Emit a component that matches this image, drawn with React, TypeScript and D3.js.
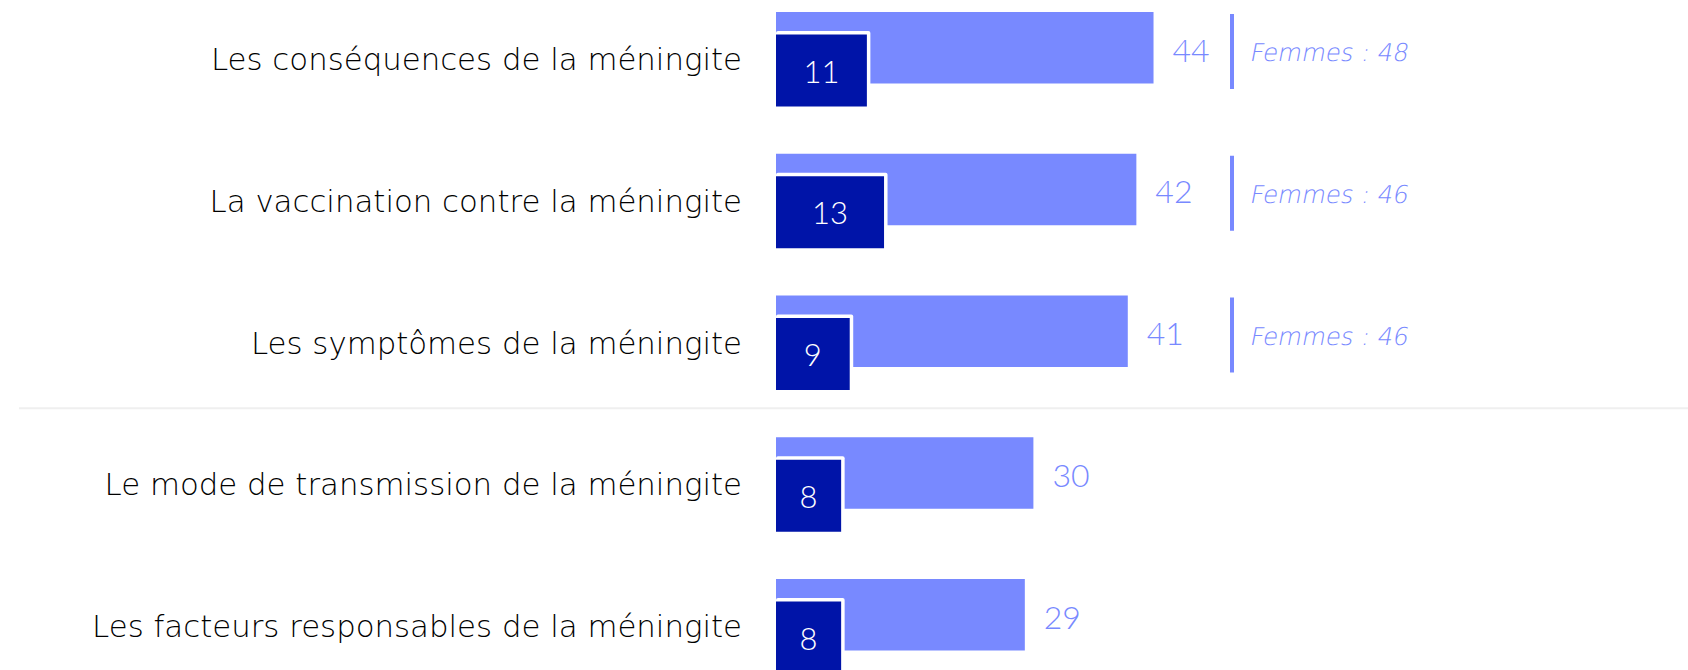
import React, { useEffect, useRef } from 'react';
import * as d3 from 'd3';

// Données
const categories = [
  'Les conséquences de la méningite',
  'La vaccination contre la méningite',
  'Les symptômes de la méningite',
  'Le mode de transmission de la méningite',
  'Les facteurs responsables de la méningite',
];
const totalValues = [44, 42, 41, 30, 29];
const subValues = [11, 13, 9, 8, 8];
const femmesValues: (number | null)[] = [48, 46, 46, null, null];
const femmesLabel = 'Femmes';

const LIGHT = '#7889ff';
const DARK = '#0014a8';
const FONT = "'DejaVu Sans', sans-serif";
const NUM_FONT = "Lato, 'DejaVu Sans', sans-serif";

const App: React.FC = () => {
  const svgRef = useRef<SVGSVGElement>(null);
  const width = 1688;
  const height = 670;

  useEffect(() => {
    const svg = d3.select(svgRef.current);
    svg.selectAll('*').remove();

    const x = d3.scaleLinear().domain([0, 50]).range([776, 1205]);
    const y = d3.scaleBand<string>()
      .domain(categories)
      .range([12, 12 + 5 * 141.75])
      .padding(0);

    const barH = 71.5;
    const rows = categories.map((c, i) => ({
      cat: c,
      total: totalValues[i],
      sub: subValues[i],
      femmes: femmesValues[i],
    }));

    // séparateur entre les deux groupes
    const sepY = (y(categories[3]) as number) - 29;
    svg.append('line')
      .attr('x1', 19).attr('x2', width)
      .attr('y1', sepY).attr('y2', sepY)
      .attr('stroke', '#efefef')
      .attr('stroke-width', 2);

    const g = svg.selectAll('.row')
      .data(rows)
      .enter().append('g')
      .attr('class', 'row')
      .attr('transform', d => `translate(0,${y(d.cat)})`);

    // libellés
    g.append('text')
      .attr('x', 742)
      .attr('y', 58)
      .attr('text-anchor', 'end')
      .style('font-family', FONT)
      .style('font-size', '30.8px')
      .style('font-weight', 200)
      .style('fill', '#000')
      .text(d => d.cat);

    // barre totale
    g.append('rect')
      .attr('x', x(0))
      .attr('y', 0)
      .attr('width', d => x(d.total) - x(0))
      .attr('height', barH)
      .attr('fill', LIGHT);

    // barre secondaire avec bord blanc
    g.append('rect')
      .attr('x', x(0))
      .attr('y', 19)
      .attr('width', d => x(d.sub) - x(0))
      .attr('height', 75.5)
      .attr('rx', 2)
      .attr('fill', '#fff');

    g.append('rect')
      .attr('x', x(0))
      .attr('y', 22.5)
      .attr('width', d => x(d.sub) - x(0) - 3.5)
      .attr('height', 72)
      .attr('fill', DARK);

    g.append('text')
      .attr('x', d => (x(0) + x(d.sub) - 3.5) / 2)
      .attr('y', 70.7)
      .attr('text-anchor', 'middle')
      .style('font-family', NUM_FONT)
      .style('font-size', '31px')
      .style('font-weight', 300)
      .style('fill', '#fff')
      .text(d => d.sub);

    // valeurs
    g.append('text')
      .attr('x', d => x(d.total) + 19)
      .attr('y', 49.5)
      .style('font-family', NUM_FONT)
      .style('font-size', '32px')
      .style('font-weight', 300)
      .style('fill', LIGHT)
      .text(d => d.total);

    // Femmes
    const fx = 1232;
    const fg = g.filter(d => d.femmes != null);
    fg.append('line')
      .attr('x1', fx).attr('x2', fx)
      .attr('y1', 2).attr('y2', 77)
      .attr('stroke', LIGHT)
      .attr('stroke-width', 4);

    fg.append('g')
      .attr('transform', `translate(${fx + 17},49.3) skewX(-11)`)
      .append('text')
      .style('font-family', FONT)
      .style('font-size', '24.5px')
      .style('font-weight', 200)
      .style('fill', LIGHT)
      .text(d => `${femmesLabel} : ${d.femmes}`);
  }, []);

  return (
    <svg
      ref={svgRef}
      width={width}
      height={height}
      style={{ position: 'absolute', left: 0, top: 0, background: '#fff' }}
    />
  );
};

export default App;
